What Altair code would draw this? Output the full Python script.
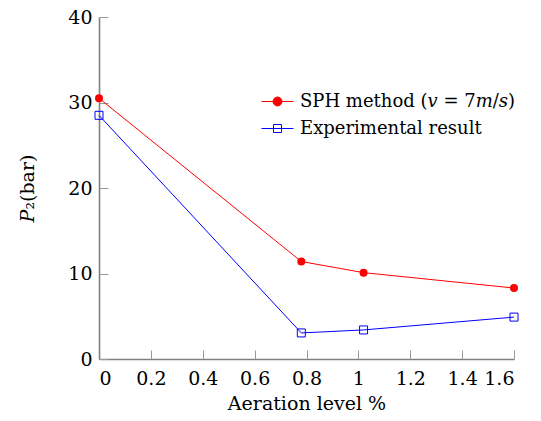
import altair as alt
import pandas as pd

# ---- data ----
aeration = [0.0, 0.78, 1.02, 1.6]
sph_values = [30.5, 11.4, 10.1, 8.3]
exp_values = [28.5, 3.05, 3.4, 4.9]
series_keys = ["SPH", "Exp"]
series_labels = ["SPH method (𝑣 = 7𝑚/𝑠)", "Experimental result"]
x_ticks = [0, 0.2, 0.4, 0.6, 0.8, 1.0, 1.2, 1.4, 1.6]
y_ticks = [0, 10, 20, 30, 40]

rows = []
for xv, yv in zip(aeration, sph_values):
    rows.append({"series": "SPH", "x": xv, "y": yv})
for xv, yv in zip(aeration, exp_values):
    rows.append({"series": "Exp", "x": xv, "y": yv})
df = pd.DataFrame(rows)

FONT = "DejaVu Serif"
RED = "#ff0000"
BLUE = "#0000ff"
W, H = 415, 342

circle_path = "M-1,0H1M-0.28,0A0.28,0.28,0,1,0,0.28,0A0.28,0.28,0,1,0,-0.28,0Z"
square_path = "M-1,0H1M-0.25,-0.25H0.25V0.25H-0.25Z"

x_scale = alt.Scale(domain=[0, 1.6], nice=False, zero=False)
y_scale = alt.Scale(domain=[0, 40], nice=False, zero=True)

x_main = alt.X(
    "x:Q",
    scale=x_scale,
    axis=alt.Axis(
        title="Aeration level %",
        values=x_ticks,
        format="~g",
        grid=False,
        ticks=False,
        tickSize=0,
        labelPadding=25,
        labelBaseline="alphabetic",
        titleBaseline="alphabetic",
        titleY=50,
    ),
)
y_main = alt.Y(
    "y:Q",
    scale=y_scale,
    axis=alt.Axis(
        title="𝑃₂(bar)",
        values=y_ticks,
        grid=False,
        ticks=False,
        tickSize=0,
        labelPadding=7,
        labelBaseline="middle",
        titleBaseline="alphabetic",
        titleX=-66,
    ),
)

# inner ticks: axes on the opposite side, shifted across the plot
x_inner = alt.X(
    "x:Q",
    scale=x_scale,
    axis=alt.Axis(
        orient="top", offset=-H, values=x_ticks, grid=False, domain=False,
        labels=False, title=None, tickSize=9,
    ),
)
y_inner = alt.Y(
    "y:Q",
    scale=y_scale,
    axis=alt.Axis(
        orient="right", offset=-W, values=y_ticks, grid=False, domain=False,
        labels=False, title=None, tickSize=9,
    ),
)
x_none = alt.X("x:Q", scale=x_scale, axis=None)
y_none = alt.Y("y:Q", scale=y_scale, axis=None)


def make_legend(label, shape_path, fill_col, stroke_col, ly):
    return alt.Legend(
        title=None,
        orient="none",
        legendX=162,
        legendY=ly,
        padding=0,
        symbolType=shape_path,
        symbolSize=1024,
        symbolStrokeWidth=1,
        symbolOpacity=1,
        symbolFillColor=fill_col,
        symbolStrokeColor=stroke_col,
        labelFont=FONT,
        labelFontSize=18,
        labelColor="black",
        labelOffset=6,
        labelLimit=400,
        labelExpr="'%s'" % label,
    )


base = alt.Chart(df)

line_sph = base.transform_filter("datum.series === 'SPH'").mark_line(
    strokeWidth=1, color=RED
).encode(x=x_main, y=y_main)

line_exp = base.transform_filter("datum.series === 'Exp'").mark_line(
    strokeWidth=1, color=BLUE
).encode(x=x_none, y=y_none)

ghost = base.mark_point(opacity=0).encode(x=x_inner, y=y_inner)

pts_sph = base.transform_filter("datum.series === 'SPH'").mark_point(
    shape="circle", filled=True, color=RED, size=64, opacity=1
).encode(x=x_none, y=y_none)

pts_exp = base.transform_filter("datum.series === 'Exp'").mark_point(
    shape="square", filled=False, color=BLUE, size=64, strokeWidth=1, opacity=1
).encode(x=x_none, y=y_none)

# legend-only layers (no rows drawn; entries come from the scale domains)
legend_sph = base.transform_filter("false").mark_point(filled=True, opacity=1, strokeWidth=1).encode(
    x=x_none,
    y=y_none,
    fill=alt.Fill(
        "series:N",
        scale=alt.Scale(domain=[series_keys[0]], range=[RED]),
        legend=make_legend(series_labels[0], circle_path, RED, RED, 68),
    ),
)
legend_exp = base.transform_filter("false").mark_point(filled=False, opacity=1, strokeWidth=1).encode(
    x=x_none,
    y=y_none,
    stroke=alt.Stroke(
        "series:N",
        scale=alt.Scale(domain=[series_keys[1]], range=[BLUE]),
        legend=make_legend(series_labels[1], square_path, "transparent", BLUE, 95),
    ),
)

chart = (
    alt.layer(line_sph, line_exp, ghost, pts_sph, pts_exp, legend_sph, legend_exp)
    .resolve_axis(x="independent", y="independent")
    .resolve_scale(fill="independent", stroke="independent")
    .properties(
        width=W,
        height=H,
        autosize=alt.AutoSizeParams(type="none"),
        padding={"left": 91, "top": 9, "right": 19, "bottom": 54},
    )
    .configure_view(stroke=None)
    .configure_axis(
        domainColor="#808080",
        domainWidth=1.6,
        tickColor="#999999",
        tickWidth=1,
        labelFont=FONT,
        labelFontSize=19,
        labelColor="black",
        titleFont=FONT,
        titleFontSize=19,
        titleFontWeight="normal",
        titleColor="black",
    )
)

chart.save("out.html", embed_options={"renderer": "svg", "actions": False})
